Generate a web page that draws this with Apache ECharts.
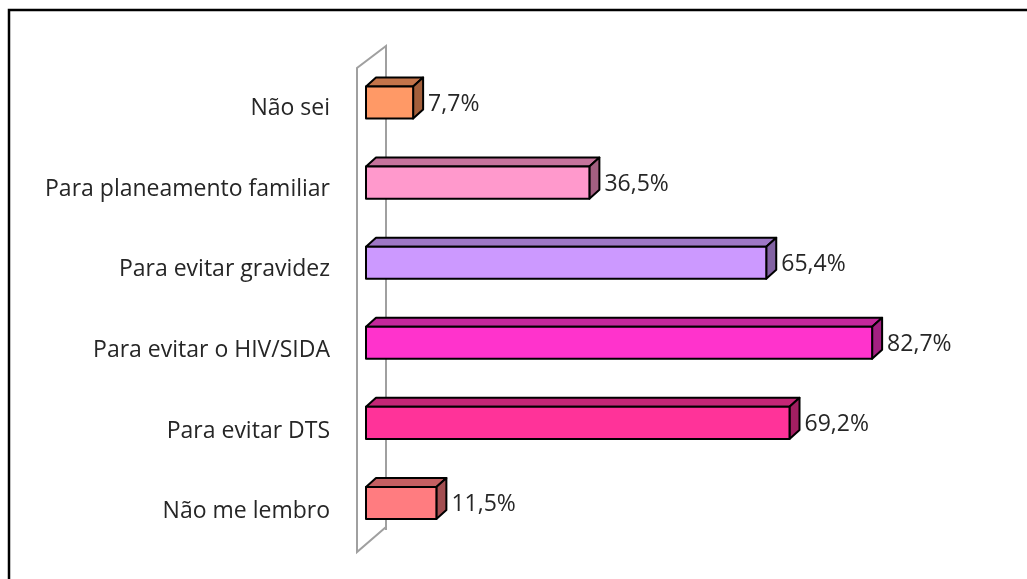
<!DOCTYPE html>
<html>
<head>
<meta charset="utf-8">
<script src="https://cdn.jsdelivr.net/npm/echarts@6/dist/echarts.min.js"></script>
<style>
  html, body { margin: 0; padding: 0; background: #fff; }
  #chart { width: 1027px; height: 579px; }
</style>
</head>
<body>
<div id="chart"></div>
<script>
// categorias de cima para baixo
const categorias = ['Não sei', 'Para planeamento familiar', 'Para evitar gravidez', 'Para evitar o HIV/SIDA', 'Para evitar DTS', 'Não me lembro'];
const valores = [7.7, 36.5, 65.4, 82.7, 69.2, 11.5];
// frente / topo / lado de cada barra
const coresFrente = ['#ff9966', '#ff99cc', '#cc99ff', '#ff33cc', '#ff3399', '#ff7c80'];
const coresTopo = ['#c4744a', '#c6739c', '#9e77c6', '#c4279c', '#c42676', '#c45f62'];
const coresLado = ['#a35f3b', '#a35f81', '#8262a3', '#a32081', '#a31f62', '#a34e51'];

const chartDom = document.getElementById('chart');
const myChart = echarts.init(chartDom);

const fonte = '"Open Sans", sans-serif';
const dx = 10, dy = 9;

function renderBarra(params, api) {
  const idx = api.value(1);
  const valor = api.value(0);
  const p0 = api.coord([0, idx]);
  const p1 = api.coord([valor, idx]);
  const h = api.size([0, 1])[1] * 0.4;
  const x0 = p0[0], x1 = p1[0];
  const yT = p0[1] - h / 2, yB = p0[1] + h / 2;
  const borda = { stroke: '#000', lineWidth: 2, lineJoin: 'round' };
  return {
    type: 'group',
    children: [
      {
        type: 'polygon',
        shape: { points: [[x0, yT], [x0 + dx, yT - dy], [x1 + dx, yT - dy], [x1, yT]] },
        style: Object.assign({ fill: coresTopo[idx] }, borda)
      },
      {
        type: 'polygon',
        shape: { points: [[x1, yT], [x1 + dx, yT - dy], [x1 + dx, yB - dy], [x1, yB]] },
        style: Object.assign({ fill: coresLado[idx] }, borda)
      },
      {
        type: 'rect',
        shape: { x: x0, y: yT, width: x1 - x0, height: h },
        style: Object.assign({ fill: coresFrente[idx] }, borda)
      },
      {
        type: 'text',
        x: x1 + dx + 5,
        y: p0[1] + 1.5,
        style: {
          text: valor.toFixed(1).replace('.', ',') + '%',
          font: '23px ' + fonte,
          fill: '#262626',
          verticalAlign: 'middle',
          align: 'left'
        }
      }
    ]
  };
}

const option = {
  animation: false,
  backgroundColor: '#fff',
  graphic: [
    {
      type: 'rect',
      shape: { x: 9, y: 10, width: 1100, height: 700 },
      style: { fill: 'none', stroke: '#000', lineWidth: 2.5 },
      z: -10
    },
    {
      type: 'polyline',
      shape: { points: [[386, 530], [386, 46], [357, 68], [357, 552], [386, 527]] },
      style: { fill: 'none', stroke: '#a0a0a0', lineWidth: 2 },
      z: -5
    }
  ],
  grid: [
    { left: 366, right: 49, top: 62.5, bottom: 36 },
    { left: 366, right: 49, top: 68, bottom: 27 }
  ],
  xAxis: [
    { type: 'value', gridIndex: 0, min: 0, max: 100, show: false },
    { type: 'value', gridIndex: 1, min: 0, max: 100, show: false }
  ],
  yAxis: [
    {
      type: 'category', gridIndex: 0, data: categorias, inverse: true,
      axisLine: { show: false }, axisTick: { show: false }, axisLabel: { show: false },
      splitLine: { show: false }
    },
    {
      type: 'category', gridIndex: 1, data: categorias, inverse: true,
      axisLine: { show: false }, axisTick: { show: false }, splitLine: { show: false },
      axisLabel: { color: '#262626', fontFamily: fonte, fontSize: 23, margin: 36 }
    }
  ],
  series: [
    {
      type: 'custom',
      xAxisIndex: 0,
      yAxisIndex: 0,
      renderItem: renderBarra,
      data: valores.map((v, i) => [v, i])
    }
  ]
};

myChart.setOption(option);
</script>
</body>
</html>
